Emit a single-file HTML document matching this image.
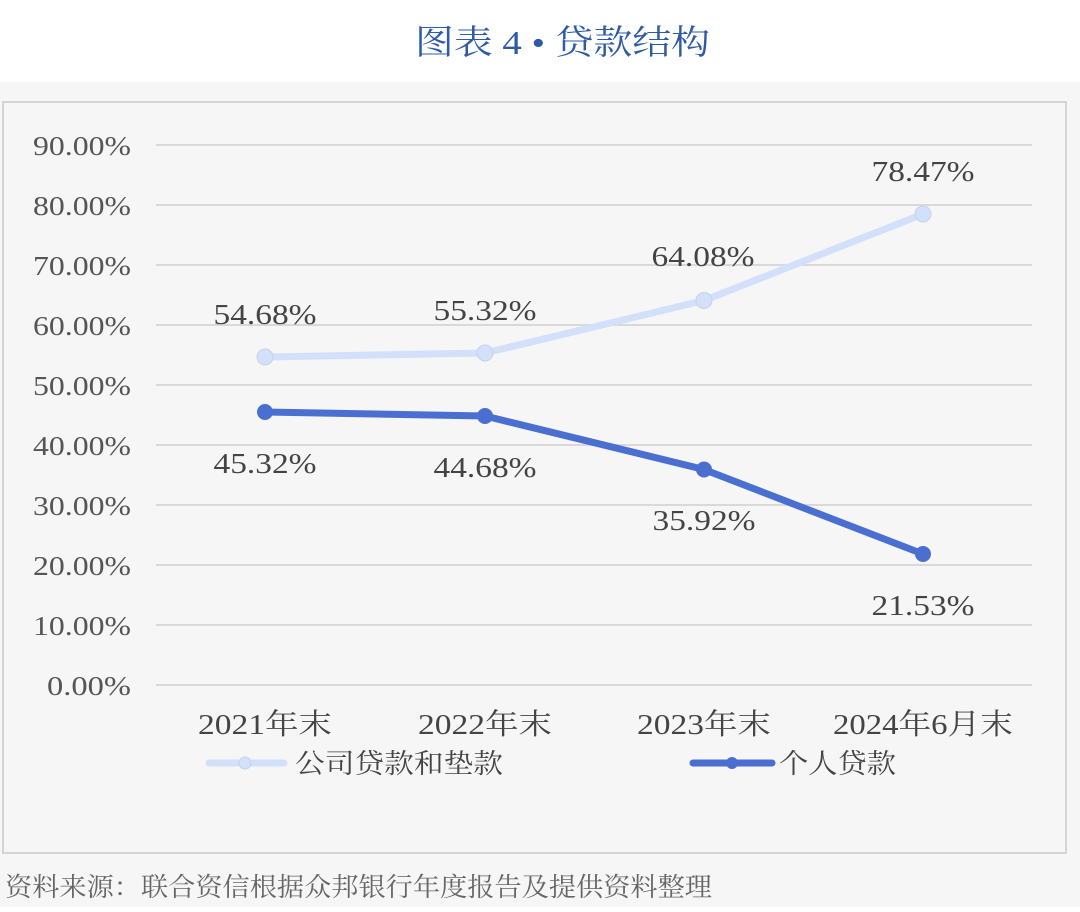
<!DOCTYPE html>
<html><head><meta charset="utf-8"><style>
body{margin:0;width:1080px;height:907px;background:#fff;overflow:hidden;font-family:"Liberation Serif","Noto Serif CJK SC",serif;}
</style></head><body>
<svg width="1080" height="907" xmlns="http://www.w3.org/2000/svg">
<text x="415" y="54" font-size="34" fill="#2e5aa8" textLength="295" lengthAdjust="spacingAndGlyphs">图表 4 • 贷款结构</text>
<rect x="0" y="82" width="1080" height="825" fill="#f6f6f6"/>
<rect x="3" y="102" width="1063" height="751" fill="none" stroke="#d4d4d4" stroke-width="2"/>
<g stroke="#d9d9d9" stroke-width="2">
<line x1="156" x2="1032" y1="145" y2="145"/><line x1="156" x2="1032" y1="205" y2="205"/>
<line x1="156" x2="1032" y1="265" y2="265"/><line x1="156" x2="1032" y1="325" y2="325"/>
<line x1="156" x2="1032" y1="385" y2="385"/><line x1="156" x2="1032" y1="445" y2="445"/>
<line x1="156" x2="1032" y1="505" y2="505"/><line x1="156" x2="1032" y1="565" y2="565"/>
<line x1="156" x2="1032" y1="625" y2="625"/><line x1="156" x2="1032" y1="685" y2="685"/>
</g>
<g font-size="27" fill="#555" text-anchor="end">
<text x="131" y="155" textLength="98" lengthAdjust="spacingAndGlyphs">90.00%</text><text x="131" y="215" textLength="98" lengthAdjust="spacingAndGlyphs">80.00%</text><text x="131" y="275" textLength="98" lengthAdjust="spacingAndGlyphs">70.00%</text>
<text x="131" y="335" textLength="98" lengthAdjust="spacingAndGlyphs">60.00%</text><text x="131" y="395" textLength="98" lengthAdjust="spacingAndGlyphs">50.00%</text><text x="131" y="455" textLength="98" lengthAdjust="spacingAndGlyphs">40.00%</text>
<text x="131" y="515" textLength="98" lengthAdjust="spacingAndGlyphs">30.00%</text><text x="131" y="575" textLength="98" lengthAdjust="spacingAndGlyphs">20.00%</text><text x="131" y="635" textLength="98" lengthAdjust="spacingAndGlyphs">10.00%</text>
<text x="131" y="695" textLength="84" lengthAdjust="spacingAndGlyphs">0.00%</text>
</g>
<g font-size="29" fill="#444" text-anchor="middle">
<text x="265" y="734" textLength="134" lengthAdjust="spacingAndGlyphs">2021年末</text><text x="485" y="734" textLength="134" lengthAdjust="spacingAndGlyphs">2022年末</text>
<text x="704" y="734" textLength="134" lengthAdjust="spacingAndGlyphs">2023年末</text><text x="923" y="734" textLength="180" lengthAdjust="spacingAndGlyphs">2024年6月末</text>
</g>
<polyline points="265,357 485,353 704,300.5 923,214" fill="none" stroke="#d3e0fa" stroke-width="7" stroke-linejoin="round"/>
<g fill="#d3e0fa" stroke="#c5d2ec" stroke-width="1"><circle cx="265" cy="357" r="8"/><circle cx="485" cy="353" r="8"/><circle cx="704" cy="300.5" r="8"/><circle cx="923" cy="214" r="8"/></g>
<polyline points="265,412 485,416 704,469.5 923,554" fill="none" stroke="#4a6fd0" stroke-width="7" stroke-linejoin="round"/>
<g fill="#4a6fd0"><circle cx="265" cy="412" r="8"/><circle cx="485" cy="416" r="8"/><circle cx="704" cy="469.5" r="8"/><circle cx="923" cy="554" r="8"/></g>
<g font-size="28" fill="#444" text-anchor="middle">
<text x="265" y="324" textLength="103" lengthAdjust="spacingAndGlyphs">54.68%</text><text x="485" y="320" textLength="103" lengthAdjust="spacingAndGlyphs">55.32%</text><text x="703" y="266" textLength="103" lengthAdjust="spacingAndGlyphs">64.08%</text><text x="923" y="181" textLength="103" lengthAdjust="spacingAndGlyphs">78.47%</text>
<text x="265" y="473" textLength="103" lengthAdjust="spacingAndGlyphs">45.32%</text><text x="485" y="477" textLength="103" lengthAdjust="spacingAndGlyphs">44.68%</text><text x="704" y="530" textLength="103" lengthAdjust="spacingAndGlyphs">35.92%</text><text x="923" y="615" textLength="103" lengthAdjust="spacingAndGlyphs">21.53%</text>
</g>
<line x1="209" y1="763" x2="284" y2="763" stroke="#d3e0fa" stroke-width="7" stroke-linecap="round"/>
<circle cx="245" cy="763" r="6" fill="#d3e0fa" stroke="#c5d2ec"/>
<text x="295" y="773" font-size="27" fill="#444" textLength="208" lengthAdjust="spacingAndGlyphs">公司贷款和垫款</text>
<line x1="693" y1="763" x2="772" y2="763" stroke="#4a6fd0" stroke-width="7" stroke-linecap="round"/>
<circle cx="732" cy="763" r="6" fill="#4a6fd0"/>
<text x="779" y="773" font-size="27" fill="#444" textLength="117" lengthAdjust="spacingAndGlyphs">个人贷款</text>
<text x="5" y="896" font-size="26" fill="#666" textLength="707" lengthAdjust="spacingAndGlyphs">资料来源：联合资信根据众邦银行年度报告及提供资料整理</text>
</svg>
</body></html>
